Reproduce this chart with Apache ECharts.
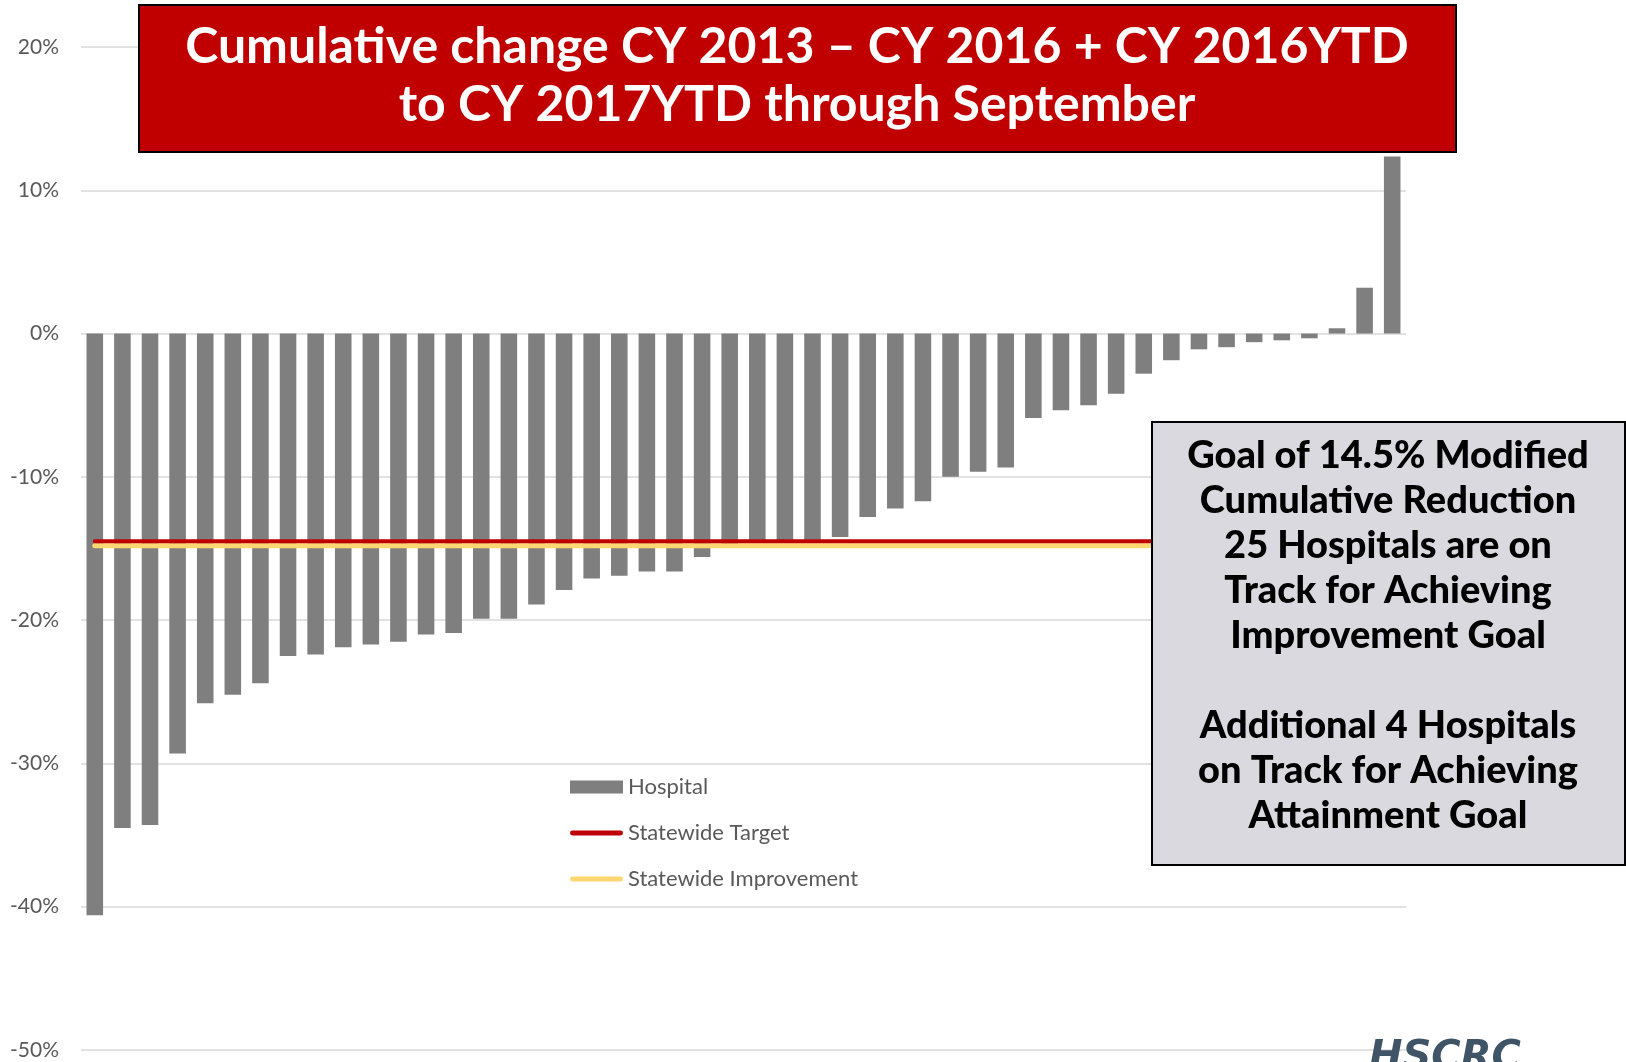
<!DOCTYPE html>
<html>
<head>
<meta charset="utf-8">
<script src="https://cdn.jsdelivr.net/npm/echarts@6/dist/echarts.min.js"></script>
<style>
  html, body { margin: 0; padding: 0; background: #fff; }
  #chart { width: 1626px; height: 1062px; }
</style>
</head>
<body>
<div id="chart"></div>
<script>
// Cumulative change per hospital, sorted
const hospitalChange = [
  -40.6, -34.5, -34.3, -29.3, -25.8, -25.2, -24.4, -22.5, -22.4, -21.9,
  -21.7, -21.5, -21.0, -20.9, -19.9, -19.9, -18.9, -17.9, -17.1, -16.9,
  -16.6, -16.6, -15.6, -14.7, -14.6, -14.6, -14.5, -14.2, -12.8, -12.2,
  -11.7, -10.0, -9.65, -9.35, -5.9, -5.35, -5.0, -4.2, -2.8, -1.86,
  -1.1, -0.95, -0.6, -0.47, -0.33, 0.37, 3.2, 12.35
];
const hospitals = hospitalChange.map((_, i) => 'Hospital ' + (i + 1));

const statewideTarget = -14.5;
const statewideImprovement = -14.8;

const yTicks = { min: -50, max: 20, interval: 10 };

const titleLines = [
  'Cumulative change CY 2013 \u2013 CY 2016 + CY 2016YTD',
  'to CY 2017YTD through September'
];
const noteLines = [
  'Goal of 14.5% Modified',
  'Cumulative Reduction',
  '25 Hospitals are on',
  'Track for Achieving',
  'Improvement Goal',
  '',
  'Additional 4 Hospitals',
  'on Track for Achieving',
  'Attainment Goal'
];

(function() {
  const FONT = 'Lato, "Open Sans", sans-serif';
  // rounded bar used as legend icon for the two reference lines
  const LINE_ICON = 'path://M2.5,0 L51.5,0 A2.5,2.5 0 0 1 51.5,5 L2.5,5 A2.5,2.5 0 0 1 2.5,0 Z';

  const option = {
    animation: false,
    grid: {
      left: 81,
      right: 220,
      top: 47,
      bottom: 12,
      containLabel: false
    },
    legend: {
      orient: 'vertical',
      left: 565,
      top: 771,
      itemWidth: 53,
      itemHeight: 13,
      itemGap: 24,
      itemTextGap: 5,
      symbolKeepAspect: true,
      data: [
        { name: 'Hospital', icon: 'rect' },
        { name: 'Statewide Target', icon: LINE_ICON },
        { name: 'Statewide Improvement', icon: LINE_ICON }
      ],
      textStyle: {
        fontFamily: FONT,
        fontSize: 22,
        color: '#595959',
        lineHeight: 22
      }
    },
    xAxis: {
      type: 'category',
      data: hospitals,
      axisLine: { show: false },
      axisTick: { show: false },
      axisLabel: { show: false },
      splitLine: { show: false }
    },
    yAxis: {
      type: 'value',
      min: yTicks.min,
      max: yTicks.max,
      interval: yTicks.interval,
      axisLine: { show: false },
      axisTick: { show: false },
      axisLabel: {
        formatter: '{value}%',
        fontFamily: FONT,
        fontSize: 21,
        color: '#595959',
        margin: 22
      },
      splitLine: {
        show: true,
        lineStyle: { color: '#d9d9d9', width: 1.5 }
      }
    },
    series: [
      {
        name: 'Hospital',
        type: 'bar',
        data: hospitalChange,
        barCategoryGap: '40%',
        itemStyle: { color: '#7f7f7f' }
      },
      {
        name: 'Statewide Improvement',
        type: 'line',
        data: hospitals.map(() => statewideImprovement),
        symbol: 'none',
        lineStyle: { color: '#fdd871', width: 5, cap: 'round' },
        itemStyle: { color: '#fdd871' },
        z: 3
      },
      {
        name: 'Statewide Target',
        type: 'line',
        data: hospitals.map(() => statewideTarget),
        symbol: 'none',
        lineStyle: { color: '#c00000', width: 4, cap: 'round' },
        itemStyle: { color: '#c00000' },
        z: 4
      }
    ],
    graphic: [
      {
        type: 'rect',
        z: 100,
        shape: { x: 139, y: 5, width: 1317, height: 147 },
        style: { fill: '#c00000', stroke: '#000', lineWidth: 2 }
      },
      {
        type: 'text',
        z: 101,
        x: 797,
        y: 76,
        style: {
          text: titleLines.join('\n'),
          fill: '#fff',
          font: 'bold 50px ' + FONT,
          lineHeight: 58,
          textAlign: 'center',
          textVerticalAlign: 'middle'
        }
      },
      {
        type: 'rect',
        z: 100,
        shape: { x: 1152, y: 422, width: 473, height: 443 },
        style: { fill: '#d9d9df', stroke: '#000', lineWidth: 2 }
      },
      {
        type: 'text',
        z: 101,
        x: 1388,
        y: 636,
        style: {
          text: noteLines.join('\n'),
          fill: '#000',
          font: '900 38px ' + FONT,
          lineHeight: 45,
          textAlign: 'center',
          textVerticalAlign: 'middle'
        }
      },
      {
        type: 'text',
        z: 50,
        x: 1369,
        y: 1039,
        style: {
          text: 'HSCRC',
          fill: '#3f5466',
          font: 'italic bold 40px "DejaVu Sans", sans-serif',
          textAlign: 'left',
          textVerticalAlign: 'top'
        }
      }
    ]
  };

  const chart = echarts.init(document.getElementById('chart'));
  chart.setOption(option);
  window.addEventListener('resize', () => chart.resize());
})();
</script>
</body>
</html>
